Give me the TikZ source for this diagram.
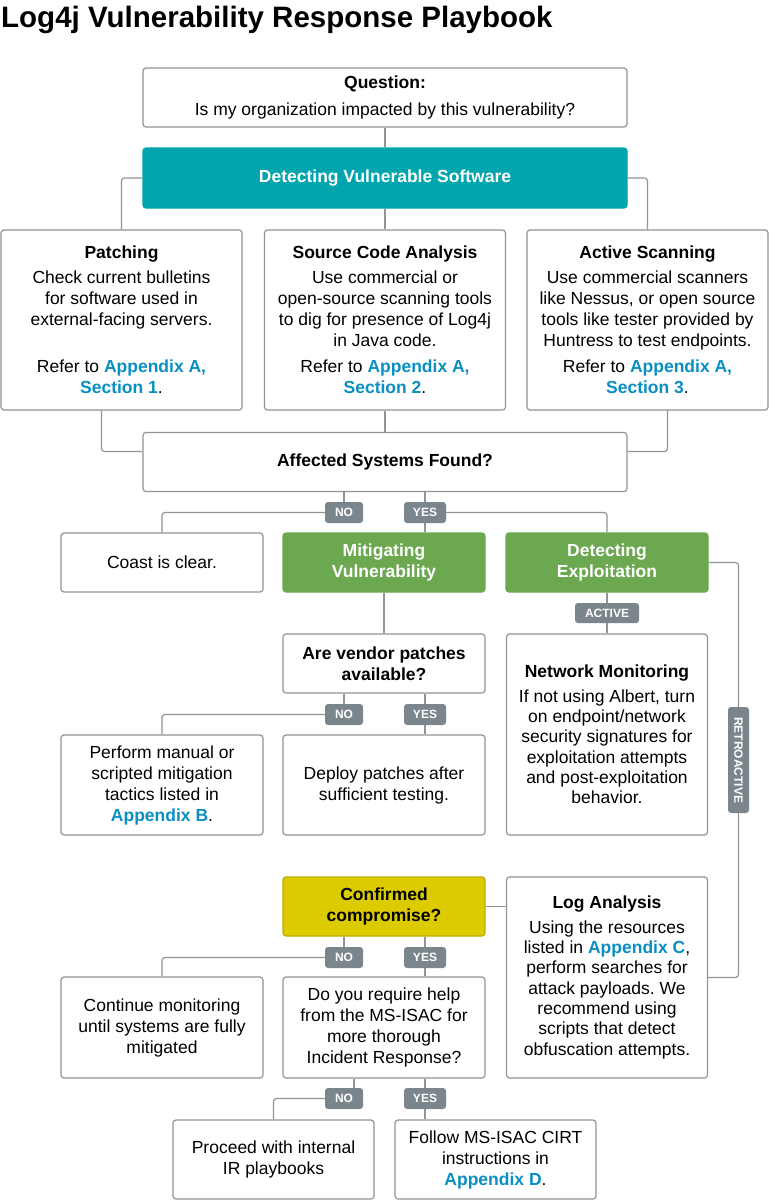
\documentclass[tikz,border=0pt]{standalone}
\usepackage{fontspec}
\setmainfont{Liberation Sans}

\definecolor{framegray}{HTML}{8F9599}
\definecolor{detectteal}{HTML}{00A5AE}
\definecolor{mitgreen}{HTML}{6BA84F}
\definecolor{confyellow}{HTML}{DCCB00}
\definecolor{taggray}{HTML}{7B868C}
\definecolor{appxblue}{HTML}{0A8FC2}

\newcommand{\appx}[1]{\textcolor{appxblue}{\textbf{#1}}}

\tikzset{
  infobox/.style={draw=framegray, line width=1.2pt, rounded corners=3pt, fill=white, align=center, inner sep=0pt, font=\fontsize{17.5}{21}\selectfont},
  stagebox/.style={infobox, draw=#1, fill=#1, text=white, font=\bfseries\fontsize{17.5}{20.5}\selectfont},
  answertag/.style={fill=taggray, rounded corners=3pt, text=white, inner sep=0pt, minimum height=21, font=\bfseries\fontsize{12}{14}\selectfont},
  connector/.style={draw=framegray, line width=1.2pt, rounded corners=3pt}
}

\begin{document}
\frenchspacing
\begin{tikzpicture}[x=1pt, y=-1pt]
\fill[white] (0,0) rectangle (770,1200);
\useasboundingbox (0,0) rectangle (770,1200);

%Title
\node[anchor=base west, inner sep=0pt, font=\bfseries\fontsize{29.5}{33}\selectfont] (title) at (1,27) {Log4j Vulnerability Response Playbook};

%Question and detection
\node[infobox, minimum width=484, minimum height=59] (quest) at (385,97.5) {\textbf{Question:}\\[6pt]Is my organization impacted by this vulnerability?};
\node[stagebox=detectteal, minimum width=484, minimum height=60] (detect) at (385,178) {Detecting Vulnerable Software};

%Three ways of detecting
\node[infobox, minimum width=241, minimum height=180] (patch) at (121.5,320) {\textbf{Patching}\\[4pt]Check current bulletins\\for software used in\\external-facing servers.\\[26pt]Refer to \appx{Appendix A,}\\\appx{Section 1}.};
\node[infobox, minimum width=241, minimum height=180] (src) at (385,320) {\textbf{Source Code Analysis}\\[4pt]Use commercial or\\open-source scanning tools\\to dig for presence of Log4j\\in Java code.\\[5pt]Refer to \appx{Appendix A,}\\\appx{Section 2}.};
\node[infobox, minimum width=241, minimum height=180] (act) at (647.5,320) {\textbf{Active Scanning}\\[4pt]Use commercial scanners\\like Nessus, or open source\\tools like tester provided by\\Huntress to test endpoints.\\[5pt]Refer to \appx{Appendix A,}\\\appx{Section 3}.};

\node[infobox, minimum width=484, minimum height=59] (aff) at (385,462) {\textbf{Affected Systems Found?}};

%Second row
\node[infobox, minimum width=202, minimum height=59] (coast) at (162,562.5) {Coast is clear.};
\node[stagebox=mitgreen, minimum width=202, minimum height=59] (mitig) at (384,562.5) {Mitigating\\Vulnerability};
\node[stagebox=mitgreen, minimum width=202, minimum height=59] (dexp) at (607,562.5) {Detecting\\Exploitation};

%Mitigation branch
\node[infobox, minimum width=202, minimum height=59] (vendor) at (384,663.5) {\textbf{Are vendor patches}\\\textbf{available?}};
\node[infobox, minimum width=202, minimum height=100] (manual) at (162,785) {Perform manual or\\scripted mitigation\\tactics listed in\\\appx{Appendix B}.};
\node[infobox, minimum width=202, minimum height=100] (deploy) at (384,785) {Deploy patches after\\sufficient testing.};

%Exploitation branch
\node[infobox, minimum width=201, minimum height=201, font=\fontsize{17.5}{20.3}\selectfont] (netmon) at (607,734.5) {\textbf{Network Monitoring}\\[4pt]If not using Albert, turn\\on endpoint/network\\security signatures for\\exploitation attempts\\and post-exploitation\\behavior.};
\node[infobox, minimum width=201, minimum height=201, font=\fontsize{17.5}{20.3}\selectfont] (logan) at (607,977.5) {\textbf{Log Analysis}\\[4pt]Using the resources\\listed in \appx{Appendix C},\\perform searches for\\attack payloads. We\\recommend using\\scripts that detect\\obfuscation attempts.};

%Compromise branch
\node[infobox, draw=confyellow!85!black, fill=confyellow, minimum width=202, minimum height=59, font=\bfseries\fontsize{17.5}{20.5}\selectfont] (confirm) at (384,906.5) {Confirmed\\compromise?};
\node[infobox, minimum width=202, minimum height=101] (cont) at (162,1027.5) {Continue monitoring\\until systems are fully\\mitigated};
\node[infobox, minimum width=202, minimum height=101] (help) at (384,1027.5) {Do you require help\\from the MS-ISAC for\\more thorough\\Incident Response?};
\node[infobox, minimum width=201, minimum height=79] (proceed) at (273.5,1159.5) {Proceed with internal\\IR playbooks};
\node[infobox, minimum width=201, minimum height=79] (follow) at (495.5,1159.5) {Follow MS-ISAC CIRT\\instructions in\\\appx{Appendix D}.};

%Tags
\node[answertag, minimum width=38] (noA) at (344,512.5) {NO};
\node[answertag, minimum width=42] (yesA) at (425,512.5) {YES};
\node[answertag, minimum width=38] (noB) at (344,714.5) {NO};
\node[answertag, minimum width=42] (yesB) at (425,714.5) {YES};
\node[answertag, minimum width=38] (noC) at (344,957.5) {NO};
\node[answertag, minimum width=42] (yesC) at (425,957.5) {YES};
\node[answertag, minimum width=38] (noD) at (344,1098.5) {NO};
\node[answertag, minimum width=42] (yesD) at (425,1098.5) {YES};
\node[answertag, minimum width=64, minimum height=20] (active) at (607,613) {ACTIVE};
\node[answertag, minimum width=106, rotate=-90] (retro) at (738.5,760) {RETROACTIVE};

%Connectors top
\draw[connector] (quest.south) -- (detect.north);
\draw[connector] (detect.west) -| (patch.north);
\draw[connector] (detect.east) -| (act.north);
\draw[connector] (detect.south) -- (src.north);
\draw[connector] ([xshift=-20pt]patch.south) |- ([yshift=10.5pt]aff.west);
\draw[connector] ([xshift=20pt]act.south) |- ([yshift=10.5pt]aff.east);
\draw[connector] (src.south) -- (aff.north);

%Connectors affected systems
\draw[connector] (aff.south -| noA) -- (noA.north);
\draw[connector] (noA.west) -| (coast.north);
\draw[connector] (aff.south -| yesA) -- (yesA.north);
\draw[connector] (yesA.south) -- (yesA.south |- mitig.north);
\draw[connector] (yesA.east) -| (dexp.north);

%Connectors exploitation
\draw[connector] (dexp.east) -| (retro.west);
\draw[connector] (retro.east) |- (logan.east);
\draw[connector] (dexp.south) -- (active.north);
\draw[connector] (active.south) -- (netmon.north);

%Connectors mitigation
\draw[connector] (mitig.south) -- (vendor.north);
\draw[connector] (vendor.south -| noB) -- (noB.north);
\draw[connector] (noB.west) -| (manual.north);
\draw[connector] (vendor.south -| yesB) -- (yesB.north);
\draw[connector] (yesB.south) -- (yesB.south |- deploy.north);

%Connectors compromise
\draw[connector] (confirm.east) -- (confirm.east -| logan.west);
\draw[connector] (confirm.south -| noC) -- (noC.north);
\draw[connector] (noC.west) -| (cont.north);
\draw[connector] (confirm.south -| yesC) -- (yesC.north);
\draw[connector] (yesC.south) -- (yesC.south |- help.north);
\draw[connector] ([xshift=10pt]noD.north |- help.south) -- ([xshift=10pt]noD.north);
\draw[connector] (noD.west) -| (proceed.north);
\draw[connector] (help.south -| yesD) -- (yesD.north);
\draw[connector] (yesD.south) -- (yesD.south |- follow.north);

\end{tikzpicture}
\end{document}
